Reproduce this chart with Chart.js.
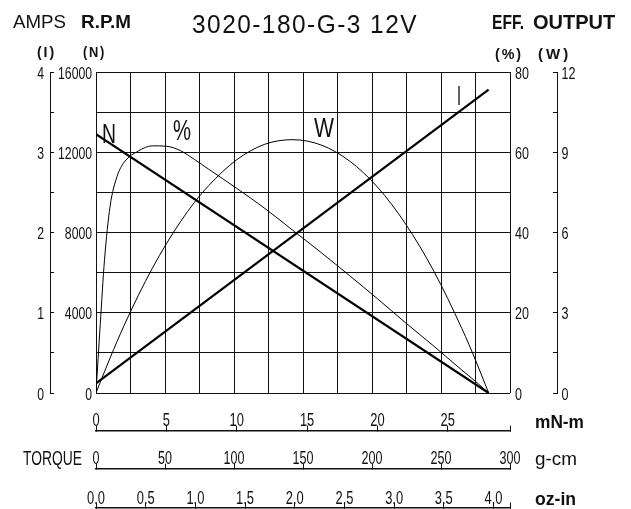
<!DOCTYPE html>
<html>
<head>
<meta charset="utf-8">
<title>3020-180-G-3 12V</title>
<script src="https://cdn.jsdelivr.net/npm/chart.js@4.4.1/dist/chart.umd.min.js"></script>
<style>
  html, body { margin: 0; padding: 0; background: #fff; }
  #wrap { position: relative; width: 631px; height: 509px; }
</style>
</head>
<body>
<div id="wrap"><canvas id="motorChart"></canvas></div>
<script>
// Torque in mN-m
const effTorque = [0, 0.3, 0.6, 1, 1.5, 2, 3, 4, 5, 6, 7, 8, 10, 12, 14, 16, 18, 20, 22, 24, 26, 27, 27.9];
const efficiency = [0, 17, 33, 46.5, 54, 57.5, 60.3, 61.6, 61.5, 60.4, 58.2, 55.8, 51, 46, 40.5, 35, 29.3, 23.5, 17.5, 11.7, 5.7, 2.8, 0];
const outputW = [0, 0.4, 0.79, 1.31, 1.93, 2.53, 3.64, 4.66, 5.58, 6.4, 7.13, 7.75, 8.72, 9.3, 9.47, 9.27, 8.68, 7.7, 6.32, 4.56, 2.41, 1.19, 0];

const speedTorque = [0, 27.9];
const speedRpm = [12900, 0];
const currentTorque = [0, 27.9];
const currentAmps = [0.12, 3.78];

// tick labels
const ampLabels = [0, 1, 2, 3, 4];
const rpmLabels = [0, 4000, 8000, 12000, 16000];
const effLabels = [0, 20, 40, 60, 80];
const wattLabels = [0, 3, 6, 9, 12];
const mnmLabels = [0, 5, 10, 15, 20, 25];
const gcmLabels = [0, 50, 100, 150, 200, 250, 300];
const ozinLabels = [0, 0.5, 1.0, 1.5, 2.0, 2.5, 3.0, 3.5, 4.0];

const GCM_MAX = 300;
const MNM_MAX = GCM_MAX * 0.0980665;
const OZIN_MAX = GCM_MAX / 72.008;

const SANS = "'Liberation Sans', Arial, sans-serif";
const INK = '#111';

function pts(xs, ys) {
    return xs.map((x, i) => ({ x: x, y: ys[i] }));
}

function yAxis(pos, weight, max, step, tick, width) {
    return {
        type: 'linear', axis: 'y', position: pos, weight: weight,
        min: 0, max: max,
        ticks: { stepSize: step, display: false },
        grid: { drawOnChartArea: false, drawTicks: tick !== 0, tickLength: tick, color: INK },
        border: { display: tick !== 0, color: INK, width: 1 },
        afterFit: s => { s.width = width; }
    };
}

// bottom torque scales sit below the plot, hung off the rpm axis
function torqueAxis(max, labels, at) {
    const values = labels[labels.length - 1] < max - 1e-6 ? labels.concat([max]) : labels;
    return {
        type: 'linear', axis: 'x', position: { n: at },
        min: 0, max: max,
        afterBuildTicks: s => { s.ticks = values.map(v => ({ value: v })); },
        ticks: { display: false, autoSkip: false, maxRotation: 0 },
        grid: { drawOnChartArea: false, tickLength: -6, color: INK, lineWidth: 1 },
        border: { display: true, color: INK, width: 1.6 }
    };
}

// condensed tick labels, placed with the scales
const axisText = [
    { id: 'n', labels: rpmLabels, fmt: String, x: 92, align: 'right', size: 16.5, sx: 0.74 },
    { id: 'i', labels: ampLabels, fmt: String, x: 44, align: 'right', size: 16.5, sx: 0.74 },
    { id: 'eff', labels: effLabels, fmt: String, x: 515, align: 'left', size: 16.5, sx: 0.76 },
    { id: 'w', labels: wattLabels, fmt: String, x: 561.5, align: 'left', size: 16.5, sx: 0.76 },
    { id: 'mnm', labels: mnmLabels, fmt: String, y: 425.5, align: 'center', size: 19, sx: 0.68 },
    { id: 'gcm', labels: gcmLabels, fmt: String, y: 463.5, align: 'center', size: 18.5, sx: 0.68 },
    { id: 'ozin', labels: ozinLabels, fmt: v => v.toFixed(1), y: 504, align: 'center', size: 19, sx: 0.68 }
];

const texts = [
    { text: 'AMPS', x: 13, y: 28, font: '19px ' + SANS, w: 53 },
    { text: 'R.P.M', x: 81, y: 28, font: 'bold 19px ' + SANS, w: 50 },
    { text: '3020-180-G-3 12V', x: 305, y: 33, font: '25px ' + SANS, w: 226, align: 'center', ls: '1.5px' },
    { text: 'EFF.', x: 492, y: 29, font: 'bold 20px ' + SANS, w: 32 },
    { text: 'OUTPUT', x: 533, y: 29, font: 'bold 20px ' + SANS, w: 83 },
    { text: '(I)', x: 37, y: 57, font: 'bold 15px ' + SANS, w: 19, ls: '2px' },
    { text: '(N)', x: 83, y: 57, font: 'bold 15px ' + SANS, w: 23, ls: '2px' },
    { text: '(%)', x: 495, y: 59, font: 'bold 15px ' + SANS, w: 28, ls: '2px' },
    { text: '(W)', x: 538, y: 59, font: 'bold 15px ' + SANS, w: 34, ls: '3px' },
    { text: 'mN-m', x: 535, y: 428, font: 'bold 18px ' + SANS, w: 49 },
    { text: 'g-cm', x: 535, y: 465, font: '19px ' + SANS, w: 42 },
    { text: 'oz-in', x: 535, y: 505, font: 'bold 18px ' + SANS, w: 41 },
    { text: 'TORQUE', x: 23, y: 465, font: '21px ' + SANS, w: 59 },
    { text: 'N', x: 102, y: 143, font: '28px ' + SANS, w: 14 },
    { text: '%', x: 173, y: 140, font: '30px ' + SANS, w: 18 },
    { text: 'W', x: 314, y: 137, font: '28px ' + SANS, w: 20 },
    { text: 'I', x: 457, y: 105, font: '28px ' + SANS, w: 4 }
];

const textPlugin = {
    id: 'motorText',
    afterDraw(chart) {
        const ctx = chart.ctx;
        ctx.save();
        ctx.fillStyle = INK;
        ctx.textBaseline = 'alphabetic';

        axisText.forEach(a => {
            const scale = chart.scales[a.id];
            ctx.font = a.size + 'px ' + SANS;
            ctx.textAlign = a.align;
            const cap = a.size * 0.36;
            scale.ticks.forEach(t => {
                if (!a.labels.includes(t.value)) return;
                const p = scale.getPixelForValue(t.value);
                const x = a.x !== undefined ? a.x : p;
                const y = a.y !== undefined ? a.y : p + cap + 0.8;
                ctx.save();
                ctx.translate(x, y);
                ctx.scale(a.sx, 1);
                ctx.fillText(a.fmt(t.value), 0, 0);
                ctx.restore();
            });
        });

        texts.forEach(t => {
            ctx.font = t.font;
            ctx.textAlign = t.align || 'left';
            ctx.letterSpacing = t.ls || '0px';
            ctx.fillText(t.text, t.x, t.y, t.w);
        });
        ctx.restore();
    }
};

const line = (data, axis, width, smooth) => ({
    data: data, yAxisID: axis, xAxisID: 'mnm',
    borderColor: '#000', borderWidth: width, pointRadius: 0, fill: false,
    tension: 0, cubicInterpolationMode: smooth ? 'monotone' : 'default'
});

const ctx = document.getElementById('motorChart').getContext('2d');
new Chart(ctx, {
    type: 'line',
    data: {
        datasets: [
            line(pts(speedTorque, speedRpm), 'n', 2.2, false),
            line(pts(currentTorque, currentAmps), 'i', 2.2, false),
            line(pts(effTorque, efficiency), 'eff', 1, true),
            line(pts(effTorque, outputW), 'w', 1, true)
        ]
    },
    options: {
        responsive: true,
        maintainAspectRatio: false,
        animation: false,
        layout: { padding: { left: 20, right: 14, top: 72, bottom: 116 } },
        plugins: { legend: { display: false }, tooltip: { enabled: false } },
        scales: {
            grid: {
                type: 'linear', axis: 'x', position: 'bottom', min: 0, max: GCM_MAX,
                ticks: { display: false, stepSize: 25 },
                grid: { color: INK, lineWidth: 1, drawTicks: false },
                border: { display: false },
                afterFit: s => { s.height = 0; }
            },
            n: {
                type: 'linear', axis: 'y', position: 'left', weight: 0,
                min: 0, max: 16000,
                ticks: { stepSize: 2000, display: false },
                grid: { color: INK, lineWidth: 1, drawTicks: false },
                border: { display: true, color: INK, width: 1 },
                afterFit: s => { s.width = 46; }
            },
            i: yAxis('left', 1, 4, 0.5, -4, 30),
            eff: yAxis('right', 0, 80, 10, 0, 47),
            w: yAxis('right', 1, 12, 1.5, -4, 60),
            mnm: torqueAxis(MNM_MAX, mnmLabels, -1900),
            gcm: torqueAxis(GCM_MAX, gcmLabels, -3800),
            ozin: torqueAxis(OZIN_MAX, ozinLabels, -5700)
        }
    },
    plugins: [textPlugin]
});
</script>
</body>
</html>
